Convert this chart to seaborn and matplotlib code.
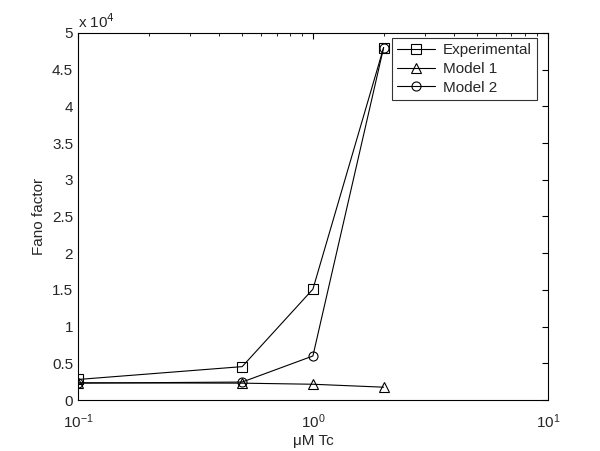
import matplotlib
matplotlib.use("Agg")
import matplotlib.pyplot as plt
import seaborn as sns
import pandas as pd
from matplotlib.ticker import FuncFormatter, LogLocator, MultipleLocator

conc = [0.1, 0.5, 1.0, 2.0]
experimental = [2800, 4550, 15100, 48000]
model1 = [2350, 2300, 2150, 1750]
model2 = [2300, 2450, 6000, 48000]

series = ["Experimental", "Model 1", "Model 2"]
markers = {"Experimental": "s", "Model 1": "^", "Model 2": "o"}

df = pd.DataFrame({
    "conc": conc * 3,
    "fano": experimental + model1 + model2,
    "series": [s for s in series for _ in conc],
})

sns.set_style("white")
plt.rcParams["font.family"] = ["Liberation Sans", "DejaVu Sans"]

fig = plt.figure(figsize=(6, 4.51), dpi=100)
ax = fig.add_axes([0.13, 0.113, 0.783, 0.814])

for s in series:
    sns.lineplot(data=df[df.series == s], x="conc", y="fano", ax=ax,
                 color="black", lw=0.8, marker=markers[s], markersize=6.5,
                 markerfacecolor="none", markeredgecolor="black",
                 markeredgewidth=0.8, label=s)

ax.set_xscale("log")
ax.set_xlim(0.1, 10)
ax.set_ylim(0, 50000)
ax.yaxis.set_major_locator(MultipleLocator(5000))
ax.yaxis.set_major_formatter(FuncFormatter(lambda v, p: f"{v/1e4:g}"))
ax.xaxis.set_major_locator(LogLocator(base=10))
ax.xaxis.set_minor_locator(LogLocator(base=10, subs=range(2, 10)))

ax.tick_params(which="both", direction="in", top=True, right=True,
               labelsize=11, color="black")
ax.tick_params(which="major", length=4)
ax.tick_params(which="minor", length=2.5)
ax.tick_params(axis="x", which="major", pad=9)
for sp in ax.spines.values():
    sp.set_color("black")
    sp.set_linewidth(0.8)

ax.set_xlabel("\u03bcM Tc", fontsize=11, labelpad=2)
ax.set_ylabel("Fano factor", fontsize=11)
ax.text(0, 1.005, "x 10$^4$", transform=ax.transAxes, fontsize=11,
        ha="left", va="bottom")

leg = ax.legend(loc="upper right", fontsize=11, frameon=True, fancybox=False,
                handlelength=2.5, handletextpad=0.5, borderpad=0.35,
                labelspacing=0.3, borderaxespad=0,
                bbox_to_anchor=(0.977, 0.986))
leg.get_frame().set_edgecolor("black")
leg.get_frame().set_linewidth(0.8)

fig.savefig("out.png", dpi=100)
